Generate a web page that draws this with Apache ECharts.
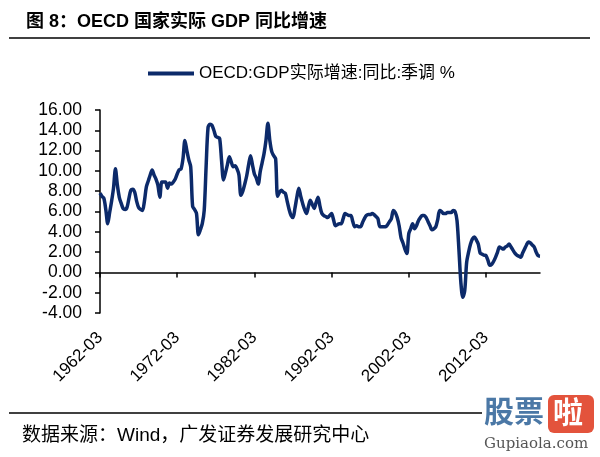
<!DOCTYPE html>
<html>
<head>
<meta charset="utf-8">
<script src="https://cdn.jsdelivr.net/npm/echarts@6/dist/echarts.min.js"></script>
<style>
  html, body { margin: 0; padding: 0; background: #fff; }
  #chart { width: 600px; height: 457px; }
</style>
</head>
<body>
<div id="chart"></div>
<script>
// 季度数据 1962-03 起
var startYear = 1962;
var gdpYoy = [
  7.8, 7.5, 7.3, 6.2,   4.8, 5.9, 7.0, 8.3,   10.2, 8.6, 7.4, 6.8,   6.3, 6.2, 6.4, 7.3,
  8.1, 8.2, 7.9, 7.0,   6.4, 6.2, 6.1, 7.0,   8.4, 9.0, 9.6, 10.1,   9.6, 9.2, 8.6, 7.4,
  8.9, 8.9, 8.9, 8.3,   8.8, 8.7, 8.9, 9.2,   9.7, 10.1, 10.2, 11.2, 13.0, 12.0, 11.1, 10.4,
  6.5, 6.2, 5.8, 3.7,   4.2, 4.8, 6.1, 10.5,  14.3, 14.6, 14.5, 14.0, 13.4, 13.3, 13.2, 11.0,
  9.1, 9.8, 10.6, 11.4, 10.9, 10.4, 10.5, 10.2, 9.6, 7.6, 8.0, 8.7,   9.5, 10.6, 11.5, 10.6,
  9.7, 9.3, 8.7, 9.9,   10.8, 11.7, 13.0, 14.7, 13.0, 11.9, 11.5, 11.2, 7.5, 7.9, 8.1, 7.9,
  7.8, 7.0, 6.2, 5.6,   5.4, 6.3, 7.4, 8.3,   7.5, 6.8, 6.2, 5.8,   6.5, 7.1, 6.7, 6.3,
  6.9, 7.4, 6.5, 5.8,   5.6, 5.5, 5.4, 5.6,   5.8, 5.2, 4.6, 4.7,   4.8, 4.8, 5.3, 5.8,
  5.7, 5.6, 5.6, 5.0,   4.5, 4.6, 4.5, 4.5,   4.9, 5.3, 5.6, 5.7,   5.7, 5.8, 5.7, 5.5,
  5.3, 4.5, 4.5, 4.5,   4.5, 4.7, 5.0, 5.3,   6.1, 5.9, 5.4, 4.6,   3.4, 2.9, 2.3, 1.85,
  3.8, 4.3, 4.8, 4.3,   4.6, 5.1, 5.4, 5.6,   5.6, 5.4, 5.0, 4.6,   4.2, 4.3, 4.5, 5.2,
  6.1, 6.0, 5.8, 5.8,   5.9, 5.9, 5.9, 6.1,   6.0, 5.1, 2.2, -1.0,  -2.45, -1.8, 1.0, 2.0,
  2.8, 3.3, 3.5, 3.2,   2.8, 1.9, 1.8, 1.7,   1.65, 1.2, 0.7, 0.8,  1.1, 1.5, 2.0, 2.5,
  2.4, 2.3, 2.5, 2.6,   2.8, 2.5, 2.2, 1.9,   1.7, 1.6, 1.5, 1.9,   2.3, 2.7, 3.0, 2.9,
  2.7, 2.5, 2.0, 1.65,  1.6
];
var xTickLabels = ["1962-03", "1972-03", "1982-03", "1992-03", "2002-03", "2012-03"];
var yTicks = [-4, -2, 0, 2, 4, 6, 8, 10, 12, 14, 16];
var seriesName = "OECD:GDP实际增速:同比:季调 %";

var months = ["03", "06", "09", "12"];
var dates = [];
for (var i = 0; i < gdpYoy.length; i++) {
  dates.push((startYear + Math.floor(i / 4)) + "-" + months[i % 4]);
}

var latin = "'Liberation Sans', Arial, 'Noto Sans CJK SC', sans-serif";
var showTick = function (idx, val) {
  return xTickLabels.indexOf(val) !== -1 || idx % 40 === 0;
};

var chart = echarts.init(document.getElementById("chart"));
var option = {
  backgroundColor: "#fff",
  animation: false,
  title: {
    text: "图 8：OECD 国家实际 GDP 同比增速",
    left: 21,
    top: 8,
    textStyle: { fontSize: 18, fontWeight: "bold", color: "#000", fontFamily: latin }
  },
  legend: {
    data: [seriesName],
    left: 143,
    top: 60,
    icon: "rect",
    itemWidth: 46,
    itemHeight: 4,
    itemGap: 2,
    textStyle: { fontSize: 17, color: "#000", fontFamily: latin }
  },
  grid: { left: 100, right: 60, top: 110, bottom: 144 },
  xAxis: [
    {
      type: "category",
      data: dates,
      boundaryGap: false,
      position: "bottom",
      axisLine: { onZero: true, lineStyle: { color: "#000", width: 1.5 } },
      axisTick: { show: true, interval: showTick, length: 5, lineStyle: { color: "#000", width: 1.5 } },
      axisLabel: { show: false },
      splitLine: { show: false }
    },
    {
      type: "category",
      data: dates,
      boundaryGap: false,
      position: "bottom",
      axisLine: { show: false, onZero: false },
      axisTick: { show: false },
      axisLabel: {
        interval: showTick,
        rotate: 45,
        margin: 22,
        fontSize: 17,
        color: "#000",
        fontFamily: latin
      },
      splitLine: { show: false }
    }
  ],
  yAxis: {
    type: "value",
    min: yTicks[0],
    max: yTicks[yTicks.length - 1],
    interval: 2,
    axisLine: { show: true, lineStyle: { color: "#000", width: 1.5 } },
    axisTick: { show: true, length: 5, lineStyle: { color: "#000", width: 1.5 } },
    axisLabel: {
      margin: 18,
      fontSize: 17.5,
      color: "#000",
      fontFamily: latin,
      formatter: function (v) { return v.toFixed(2); }
    },
    splitLine: { show: false }
  },
  series: [
    {
      name: seriesName,
      type: "line",
      data: gdpYoy,
      xAxisIndex: 0,
      showSymbol: false,
      symbol: "none",
      smooth: 0.3,
      lineStyle: { color: "#0c2a6a", width: 3.5 },
      itemStyle: { color: "#0c2a6a" }
    }
  ],
  graphic: [
    { type: "line", shape: { x1: 9, y1: 38, x2: 590, y2: 38 }, style: { stroke: "#000", lineWidth: 1.5 } },
    { type: "line", shape: { x1: 9, y1: 413, x2: 482, y2: 413 }, style: { stroke: "#000", lineWidth: 1.5 } },
    {
      type: "text", left: 22, top: 426,
      style: { text: "数据来源：Wind，广发证券发展研究中心", fontSize: 19, fill: "#000", fontFamily: latin }
    },
    {
      type: "text", left: 484, top: 396,
      style: { text: "股票", fontSize: 30, fontWeight: "bold", fill: "#4b78a6", fontFamily: "'Noto Sans CJK SC'" }
    },
    { type: "rect", shape: { x: 548, y: 395, width: 46, height: 38, r: 6 }, style: { fill: "#e3533c" } },
    {
      type: "text", left: 553, top: 397,
      style: { text: "啦", fontSize: 30, fontWeight: "bold", fill: "#fff", fontFamily: "'Noto Sans CJK SC'" }
    },
    {
      type: "text", left: 484, top: 437,
      style: { text: "Gupiaola.com", fontSize: 15, fill: "#555", fontFamily: "'DejaVu Serif', serif" }
    }
  ]
};
chart.setOption(option);
window.addEventListener("resize", function () {
  chart.resize();
});
</script>
</body>
</html>
